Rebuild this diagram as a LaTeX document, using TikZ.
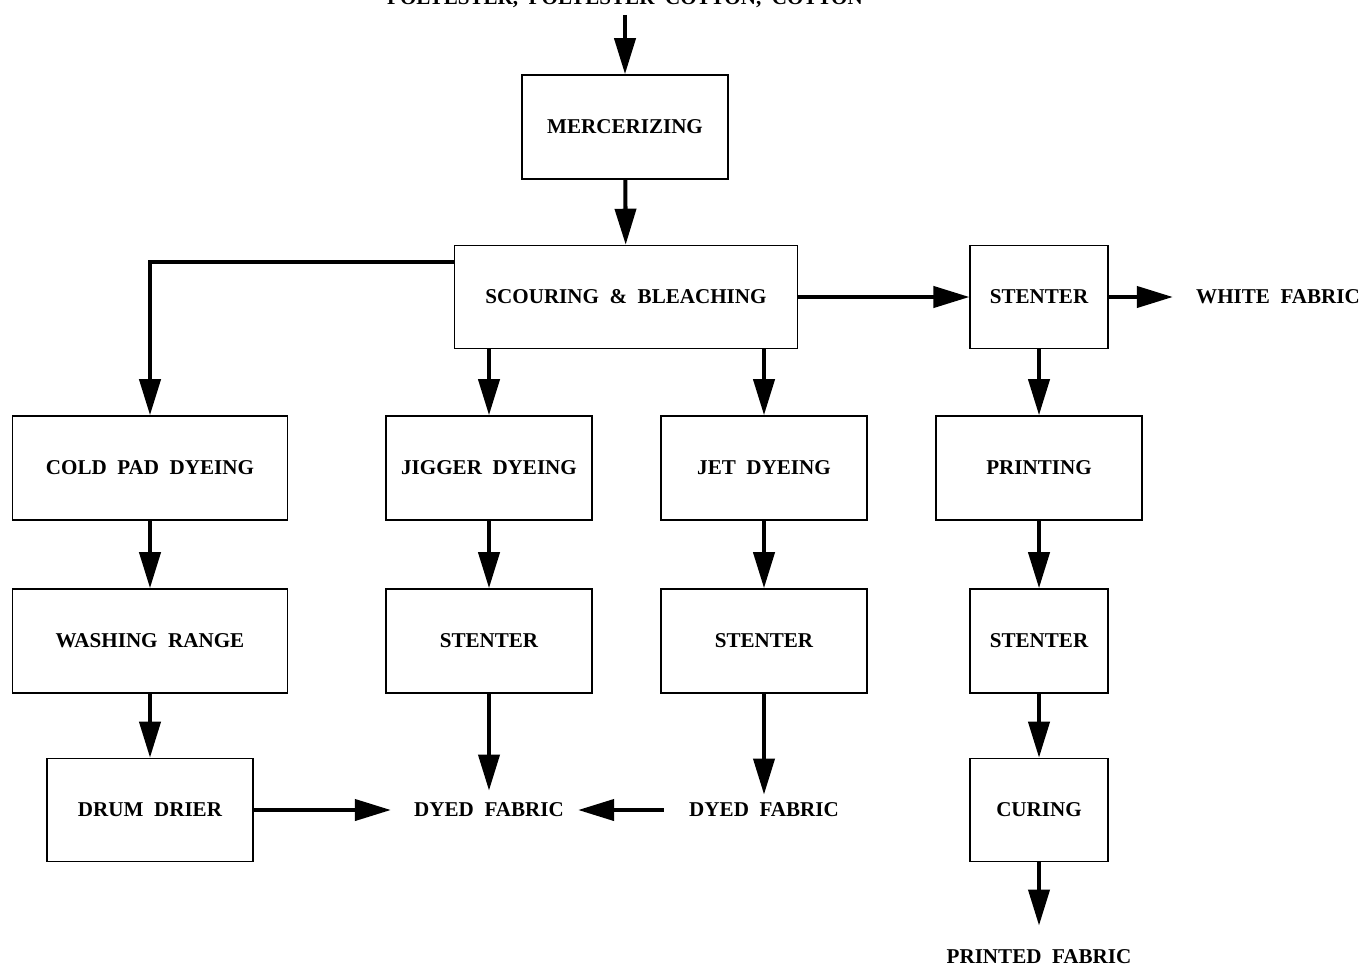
\documentclass[tikz,border=0pt]{standalone}
\usepackage{fontspec}
\setmainfont{Liberation Serif}
\usetikzlibrary{arrows.meta}
\begin{document}
\begin{tikzpicture}[x=0.02cm,y=-0.02cm,
  font=\bfseries\fontsize{12pt}{14pt}\selectfont,
  box/.style={draw,line width=0.9pt,minimum width=4.12cm,minimum height=2.08cm,inner sep=0pt},
  narrow/.style={box,minimum width=2.75cm},
  wide/.style={box,minimum width=5.5cm},
  lbl/.style={inner sep=0pt},
  arr/.style={line width=2.3pt,-{Triangle[length=0.72cm,width=0.42cm]}}]
\useasboundingbox (0,0) rectangle (1364,970);

% process boxes
\node[box] (merc) at (625,127) {MERCERIZING};
\node[box,minimum width=6.86cm,minimum height=2.06cm] (scour) at (626,297) {SCOURING \ \& \ BLEACHING};
\node[narrow,minimum height=2.06cm] (st0) at (1039,297) {STENTER};
\node[wide] (cold) at (150,468) {COLD \ PAD \ DYEING};
\node[box] (jig) at (489,468) {JIGGER \ DYEING};
\node[box] (jet) at (764,468) {JET \ DYEING};
\node[box] (prt) at (1039,468) {PRINTING};
\node[wide] (wash) at (150,641) {WASHING \ RANGE};
\node[box] (st1) at (489,641) {STENTER};
\node[box] (st2) at (764,641) {STENTER};
\node[narrow] (st3) at (1039,641) {STENTER};
\node[box,minimum height=2.06cm] (drum) at (150,810) {DRUM \ DRIER};
\node[narrow,minimum height=2.06cm] (cure) at (1039,810) {CURING};

% inputs and products
\node[lbl] (src) at (625,-1) {POLYESTER, \ POLYESTER \ COTTON, \ COTTON};
\node[lbl] (white) at (1278,297) {WHITE \ FABRIC};
\node[lbl] (dyedA) at (489,810) {DYED \ FABRIC};
\node[lbl] (dyedB) at (764,810) {DYED \ FABRIC};
\node[lbl] (printed) at (1039,957) {PRINTED \ FABRIC};

% flow
\draw[arr,shorten <=4pt] (src.south -| merc.north) -- (merc.north);
\draw[arr] (merc) -- (scour);
\draw[arr] ([yshift=0.7cm]scour.west) -| (cold.north);
\draw[arr] (scour.south -| jig.north) -- (jig.north);
\draw[arr] (scour.south -| jet.north) -- (jet.north);
\draw[arr] (scour) -- (st0);
\draw[arr,shorten >=0.46cm] (st0) -- (white);
\draw[arr] (st0) -- (prt);
\draw[arr] (cold) -- (wash);
\draw[arr] (wash) -- (drum);
\draw[arr] (jig) -- (st1);
\draw[arr] (jet) -- (st2);
\draw[arr] (prt) -- (st3);
\draw[arr] (st3) -- (cure);
\draw[arr,shorten >=0.24cm] (st1) -- (dyedA);
\draw[arr,shorten >=0.16cm] (st2) -- (dyedB);
\draw[arr,shorten >=0.46cm] (drum) -- (dyedA);
\draw[arr,shorten <=0.5cm,shorten >=0.28cm] (dyedB) -- (dyedA);
\draw[arr,shorten >=0.48cm] (cure) -- (printed);
\end{tikzpicture}
\end{document}
